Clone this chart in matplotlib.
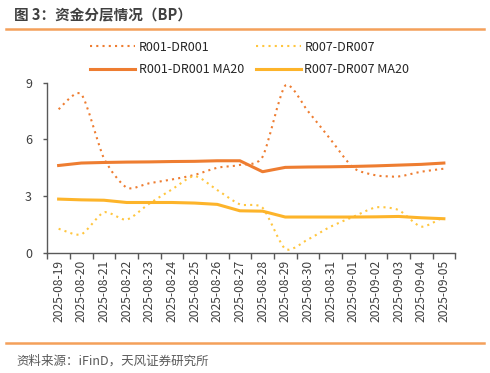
import numpy as np
import matplotlib
matplotlib.use('Agg')
import matplotlib.pyplot as plt
from matplotlib.path import Path
from matplotlib.patches import PathPatch
from matplotlib.lines import Line2D

plt.rcParams['font.family'] = ['Noto Sans CJK SC', 'DejaVu Sans']

dates = ['2025-08-19', '2025-08-20', '2025-08-21', '2025-08-22', '2025-08-23',
         '2025-08-24', '2025-08-25', '2025-08-26', '2025-08-27', '2025-08-28',
         '2025-08-29', '2025-08-30', '2025-08-31', '2025-09-01', '2025-09-02',
         '2025-09-03', '2025-09-04', '2025-09-05']
r001 = [7.6, 8.4, 5.0, 3.45, 3.68, 3.88, 4.12, 4.5, 4.65, 5.08,
        8.85, 7.5, 6.0, 4.5, 4.1, 4.04, 4.29, 4.45]
r007 = [1.27, 0.97, 2.14, 1.75, 2.6, 3.35, 4.06, 3.32, 2.56, 2.38,
        0.2, 0.7, 1.38, 1.9, 2.4, 2.26, 1.38, 1.9]
r001_ma = [4.62, 4.75, 4.78, 4.8, 4.81, 4.83, 4.84, 4.87, 4.87, 4.29,
           4.52, 4.54, 4.55, 4.57, 4.6, 4.64, 4.68, 4.75]
r007_ma = [2.84, 2.8, 2.78, 2.66, 2.66, 2.66, 2.63, 2.56, 2.22, 2.2,
           1.89, 1.89, 1.89, 1.89, 1.9, 1.92, 1.85, 1.8]

c_dark = '#EE7D31'
c_gold = '#FDB42A'
c_gold_l = '#FFC63F'


def smooth_path(x, y, k=0.12):
    # smoothed line like Excel: cubic bezier segments through each point
    pts = np.column_stack([x, y]).astype(float)
    ext = np.vstack([pts[0], pts, pts[-1]])
    verts = [pts[0]]
    codes = [Path.MOVETO]
    for i in range(len(pts) - 1):
        p0, p1, p2, p3 = ext[i], ext[i + 1], ext[i + 2], ext[i + 3]
        verts += [p1 + (p2 - p0) * k, p2 - (p3 - p1) * k, p2]
        codes += [Path.CURVE4] * 3
    return Path(verts, codes)


fig = plt.figure(figsize=(4.9, 3.73), dpi=100)
ax = fig.add_axes([0.0965, 0.3225, 0.8325, 0.4555])

x = np.arange(len(dates))
ax.add_patch(PathPatch(smooth_path(x, r001), fill=False, edgecolor=c_dark,
                       lw=1.5, ls=(0, (1, 2)), zorder=3))
ax.add_patch(PathPatch(smooth_path(x, r007), fill=False, edgecolor=c_gold_l,
                       lw=1.5, ls=(0, (1, 2)), zorder=3))
ax.plot(x, r001_ma, color=c_dark, lw=2.2, zorder=4)
ax.plot(x, r007_ma, color=c_gold, lw=2.2, zorder=4)

ax.set_xlim(-0.5, len(dates) - 0.5)
ax.set_ylim(0, 9)
ax.set_yticks([0, 3, 6, 9])
ax.set_xticks(np.arange(-0.5, len(dates)), labels=[])
ax.set_xticks(x, labels=dates, minor=True, rotation=90)
ax.tick_params(axis='x', which='major', length=4, width=1, color='#595959')
ax.tick_params(axis='x', which='minor', length=0, labelsize=8.7,
               labelcolor='#404040', pad=5)
ax.tick_params(axis='y', length=3, width=1, color='#595959',
               labelsize=9, labelcolor='#404040', pad=8)
for s in ['top', 'right']:
    ax.spines[s].set_visible(False)
for s in ['left', 'bottom']:
    ax.spines[s].set_color('#595959')
    ax.spines[s].set_linewidth(1)

handles = [
    Line2D([], [], color=c_dark, lw=1.5, ls=(0, (1, 2))),
    Line2D([], [], color=c_dark, lw=2.2),
    Line2D([], [], color=c_gold_l, lw=1.5, ls=(0, (1, 2))),
    Line2D([], [], color=c_gold, lw=2.2),
]
labels = ['R001-DR001', 'R001-DR001 MA20', 'R007-DR007', 'R007-DR007 MA20']
fig.legend(handles, labels, ncol=2, loc='center', bbox_to_anchor=(0.51, 0.843),
           frameon=False, fontsize=9, handlelength=3.6, handletextpad=0.3,
           columnspacing=0.9, labelspacing=0.75, labelcolor='#262626')

fig.text(0.029, 0.958, '图 3：资金分层情况（BP）', fontsize=10.5, fontweight='bold',
         color='#404040', va='center', ha='left')
fig.add_artist(Line2D([0.012, 0.988], [0.921, 0.921], color='#F4A05A', lw=1.8))
fig.add_artist(Line2D([0.012, 0.988], [0.08, 0.08], color='#F4A05A', lw=1.8))
fig.text(0.033, 0.032, '资料来源：iFinD，天风证券研究所', fontsize=9,
         color='#595959', va='center', ha='left')

fig.savefig('out.png', dpi=100)
